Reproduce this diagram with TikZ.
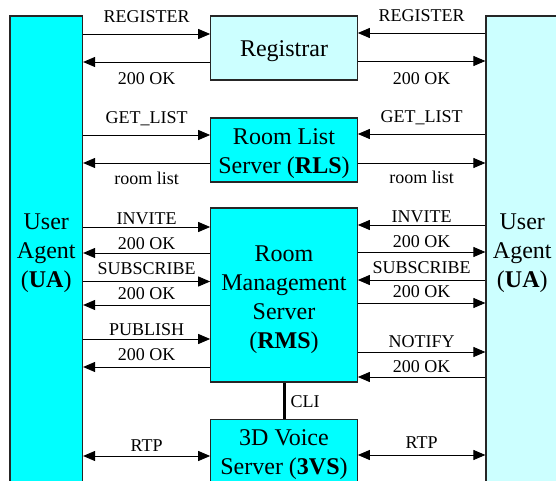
\documentclass[tikz,border=0pt]{standalone}
\usepackage{fontspec}
\setmainfont{Liberation Serif}
\usetikzlibrary{arrows.meta}

\definecolor{aqua}{HTML}{00FFFF}
\definecolor{paleaqua}{HTML}{CCFFFF}

\tikzset{
  % text box runs from the last baseline upwards, so text height sets the drop
  server/.style={draw=black!85, line width=1.2pt, minimum width=146.5pt,
    align=center, inner sep=0pt, text depth=0pt,
    font=\fontsize{24}{29}\selectfont},
  agent/.style={server, minimum width=72.5pt, minimum height=472pt},
  msg/.style={-{Triangle[length=12pt,width=10pt]}, line width=0.9pt},
  rtp/.style={{Triangle[length=12pt,width=10pt]}-{Triangle[length=12pt,width=10pt]}, line width=0.9pt},
  % label centre sits on its baseline
  lbl/.style={font=\fontsize{18}{20}\selectfont, inner sep=0pt,
    text height=0pt, text depth=0pt},
}

\begin{document}
\begin{tikzpicture}[x=1pt,y=-1pt]
  \useasboundingbox (0,0) rectangle (556,481);

  % user agents on both sides
  \node[agent, fill=aqua, text height=70.6pt] (uaL) at (46.25,252) {User\\Agent\\(\textbf{UA})};
  \node[agent, fill=paleaqua, text height=70.6pt] (uaR) at (522.25,252) {User\\Agent\\(\textbf{UA})};

  % servers in the middle
  \node[server, fill=paleaqua, minimum height=64pt, text height=17.4pt] (reg) at (284,48) {Registrar};
  \node[server, fill=aqua, minimum height=64pt, text height=46.6pt] (rls) at (284,150) {Room List\\Server (\textbf{RLS})};
  \node[server, fill=aqua, minimum height=174pt, text height=106.6pt] (rms) at (284,295) {Room\\Management\\Server\\(\textbf{RMS})};
  \node[server, fill=aqua, minimum height=71pt, text height=39pt] (vs) at (284,454.8) {3D Voice\\Server (\textbf{3VS})};

  % registration
  \draw[msg] (uaL.east |- 0,34) -- (reg.west |- 0,34) node[lbl, midway, yshift=11.3pt] {REGISTER};
  \draw[msg] (reg.west |- 0,62) -- (uaL.east |- 0,62) node[lbl, midway, yshift=-23pt] {200 OK};
  \draw[msg] (uaR.west |- 0,33) -- (reg.east |- 0,33) node[lbl, midway, yshift=11.3pt] {REGISTER};
  \draw[msg] (reg.east |- 0,61) -- (uaR.west |- 0,61) node[lbl, midway, yshift=-23.3pt] {200 OK};

  % room list
  \draw[msg] (uaL.east |- 0,135) -- (rls.west |- 0,135) node[lbl, midway, yshift=11pt] {GET\_LIST};
  \draw[msg] (rls.west |- 0,163) -- (uaL.east |- 0,163) node[lbl, midway, yshift=-21.5pt] {room list};
  \draw[msg] (uaR.west |- 0,134) -- (rls.east |- 0,134) node[lbl, midway, yshift=11.3pt] {GET\_LIST};
  \draw[msg] (rls.east |- 0,163) -- (uaR.west |- 0,163) node[lbl, midway, yshift=-20.5pt] {room list};

  % room management, left
  \draw[msg] (uaL.east |- 0,227) -- (rms.west |- 0,227) node[lbl, midway, yshift=2.7pt] {INVITE};
  \draw[msg] (rms.west |- 0,253) -- (uaL.east |- 0,253) node[lbl, midway, yshift=3.7pt] {200 OK};
  \draw[msg] (uaL.east |- 0,281.5) -- (rms.west |- 0,281.5) node[lbl, midway, yshift=7.2pt] {SUBSCRIBE};
  \draw[msg] (rms.west |- 0,305) -- (uaL.east |- 0,305) node[lbl, midway, yshift=5.7pt] {200 OK};
  \draw[msg] (uaL.east |- 0,339) -- (rms.west |- 0,339) node[lbl, midway, yshift=4pt] {PUBLISH};
  \draw[msg] (rms.west |- 0,367) -- (uaL.east |- 0,367) node[lbl, midway, yshift=6.3pt] {200 OK};

  % room management, right
  \draw[msg] (uaR.west |- 0,225) -- (rms.east |- 0,225) node[lbl, midway, yshift=2.7pt] {INVITE};
  \draw[msg] (rms.east |- 0,252) -- (uaR.west |- 0,252) node[lbl, midway, yshift=4.7pt] {200 OK};
  \draw[msg] (uaR.west |- 0,280) -- (rms.east |- 0,280) node[lbl, midway, yshift=6.7pt] {SUBSCRIBE};
  \draw[msg] (rms.east |- 0,303) -- (uaR.west |- 0,303) node[lbl, midway, yshift=5.3pt] {200 OK};
  \draw[msg] (rms.east |- 0,352) -- (uaR.west |- 0,352) node[lbl, midway, yshift=4.3pt] {NOTIFY};
  \draw[msg] (uaR.west |- 0,377) -- (rms.east |- 0,377) node[lbl, midway, yshift=4.3pt] {200 OK};

  % control link and media
  \draw[line width=3pt] (rms.south) -- (vs.north) node[lbl, midway, anchor=west, xshift=5pt, yshift=-6.5pt] {CLI};
  \draw[rtp] (uaL.east |- 0,456) -- (vs.west |- 0,456) node[lbl, midway, yshift=5pt] {RTP};
  \draw[rtp] (vs.east |- 0,455) -- (uaR.west |- 0,455) node[lbl, midway, yshift=6.3pt] {RTP};
\end{tikzpicture}
\end{document}
